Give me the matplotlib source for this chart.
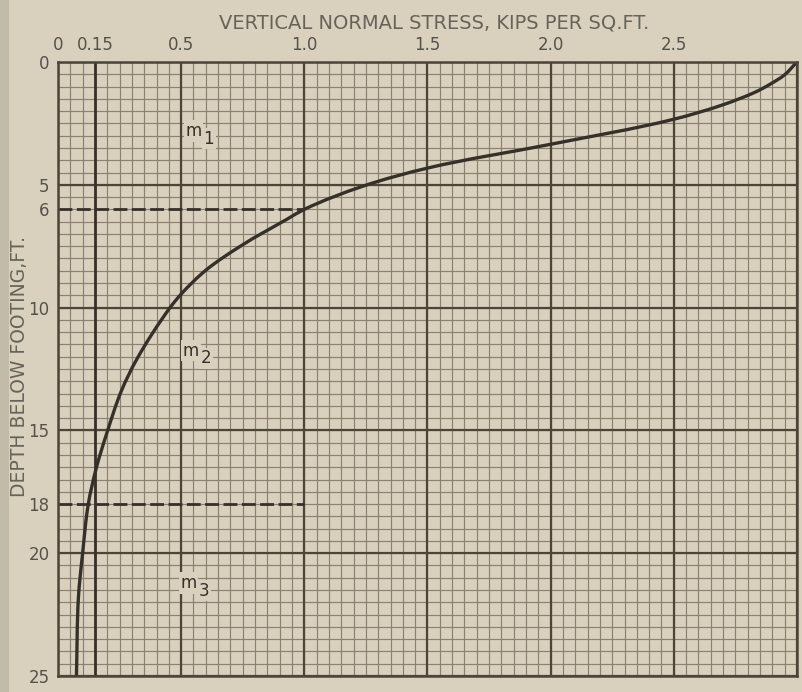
import matplotlib
matplotlib.use("Agg")
import matplotlib.pyplot as plt
import numpy as np
from matplotlib.patches import Rectangle, PathPatch
from matplotlib.path import Path

# ---- data ----
stress = [3.0, 2.95, 2.89, 2.83, 2.70, 2.5, 2.0, 1.5, 1.24, 1.0,
          0.93, 0.75, 0.60, 0.5, 0.455, 0.32, 0.257, 0.197, 0.155, 0.123,
          0.1, 0.083, 0.075]
depth = [0, 0.52, 0.91, 1.23, 1.74, 2.33, 3.35, 4.32, 5.05, 6.0,
         6.4, 7.44, 8.48, 9.45, 10.0, 12.1, 13.4, 15.15, 16.55, 18.0,
         20.0, 21.8, 25.0]

x_ticks = [0, 0.15, 0.5, 1.0, 1.5, 2.0, 2.5]
x_tick_labels = ["0", "0.15", "0.5", "1.0", "1.5", "2.0", "2.5"]
y_ticks = [0, 5, 6, 10, 15, 18, 20, 25]
y_tick_labels = ["0", "5", "6", "10", "15", "18", "20", "25"]

ref_depths = [6, 18]          # dashed reference lines
ref_stress_end = [1.0, 1.0]
marked_stress = 0.15          # heavy vertical line

zone_labels = ["1", "2", "3"]
zone_x = [0.55, 0.54, 0.53]
zone_y = [2.95, 11.9, 21.35]

title = "VERTICAL NORMAL STRESS, KIPS PER SQ.FT."
ylabel = "DEPTH BELOW FOOTING,FT."

# ---- style ----
paper = "#d9d1bd"
minor_c = "#8a8170"
major_c = "#4c4538"
ink = "#35302a"
text_c = "#55524b"

fig = plt.figure(figsize=(8.02, 6.92), dpi=100, facecolor=paper)
fig.patches.append(Rectangle((0, 0), 0.011, 1, transform=fig.transFigure,
                             facecolor="#c2bba9", edgecolor="none", zorder=0))
ax = fig.add_axes([0.0723, 0.0231, 0.9214, 0.8873])
ax.set_facecolor(paper)

ax.set_xlim(0, 3.0)
ax.set_ylim(25, 0)

# graph-paper grid
for xv in np.arange(0, 3.0001, 0.05):
    ax.axvline(xv, color=minor_c, lw=0.85, zorder=1)
for yv in np.arange(0, 25.001, 0.5):
    ax.axhline(yv, color=minor_c, lw=0.85, zorder=1)
for xv in np.arange(0, 3.0001, 0.5):
    ax.axvline(xv, color=major_c, lw=1.6, zorder=2)
for yv in np.arange(0, 25.001, 5):
    ax.axhline(yv, color=major_c, lw=1.6, zorder=2)

ax.axvline(marked_stress, color=ink, lw=2.0, zorder=3)
for d, s in zip(ref_depths, ref_stress_end):
    ax.plot([0, s], [d, d], color=ink, lw=2.0, linestyle=(0, (5, 1.6)), zorder=3)

# smooth drawn curve through the read points (Bezier segments, data coords)
ys = 10.0  # makes a grid square isotropic for tangent estimation
P = np.column_stack([np.asarray(stress), np.asarray(depth) / ys])
n = len(P)
seg = P[1:] - P[:-1]
seglen = np.hypot(seg[:, 0], seg[:, 1])
unit = seg / seglen[:, None]
tang = np.zeros_like(P)
tang[0] = unit[0]
tang[-1] = unit[-1]
for i in range(1, n - 1):
    t = unit[i - 1] + unit[i]
    tang[i] = t / np.hypot(*t)
verts = [tuple(P[0])]
codes = [Path.MOVETO]
for i in range(n - 1):
    c1 = P[i] + tang[i] * seglen[i] / 3
    c2 = P[i + 1] - tang[i + 1] * seglen[i] / 3
    verts += [tuple(c1), tuple(c2), tuple(P[i + 1])]
    codes += [Path.CURVE4] * 3
verts = [(vx, vy * ys) for vx, vy in verts]
ax.add_patch(PathPatch(Path(verts, codes), facecolor="none", edgecolor=ink,
                       lw=2.4, zorder=5, capstyle="round"))

for lab, xv, yv in zip(zone_labels, zone_x, zone_y):
    ax.annotate("m", xy=(xv, yv), xytext=(0, 2.5), textcoords="offset points",
                fontsize=12, color=ink, ha="center", va="center", zorder=4,
                bbox=dict(facecolor=paper, edgecolor="none", pad=1.2))
    ax.annotate(lab, xy=(xv, yv), xytext=(11, -3), textcoords="offset points",
                fontsize=12, color=ink, ha="center", va="center", zorder=4,
                bbox=dict(facecolor=paper, edgecolor="none", pad=1.2))

ax.xaxis.tick_top()
ax.set_xticks(x_ticks)
ax.set_xticklabels(x_tick_labels)
ax.set_yticks(y_ticks)
ax.set_yticklabels(y_tick_labels)
ax.tick_params(length=0, labelsize=12, labelcolor=text_c, pad=6)
for sp in ax.spines.values():
    sp.set_color(major_c)
    sp.set_linewidth(1.8)
    sp.set_zorder(6)

fig.text(0.541, 0.967, title, ha="center", va="center", fontsize=14,
         color="#66635b")
fig.text(0.024, 0.47, ylabel, ha="center", va="center", rotation=90,
         fontsize=13.5, color="#66635b")

fig.savefig("out.png", dpi=100, facecolor=paper)
